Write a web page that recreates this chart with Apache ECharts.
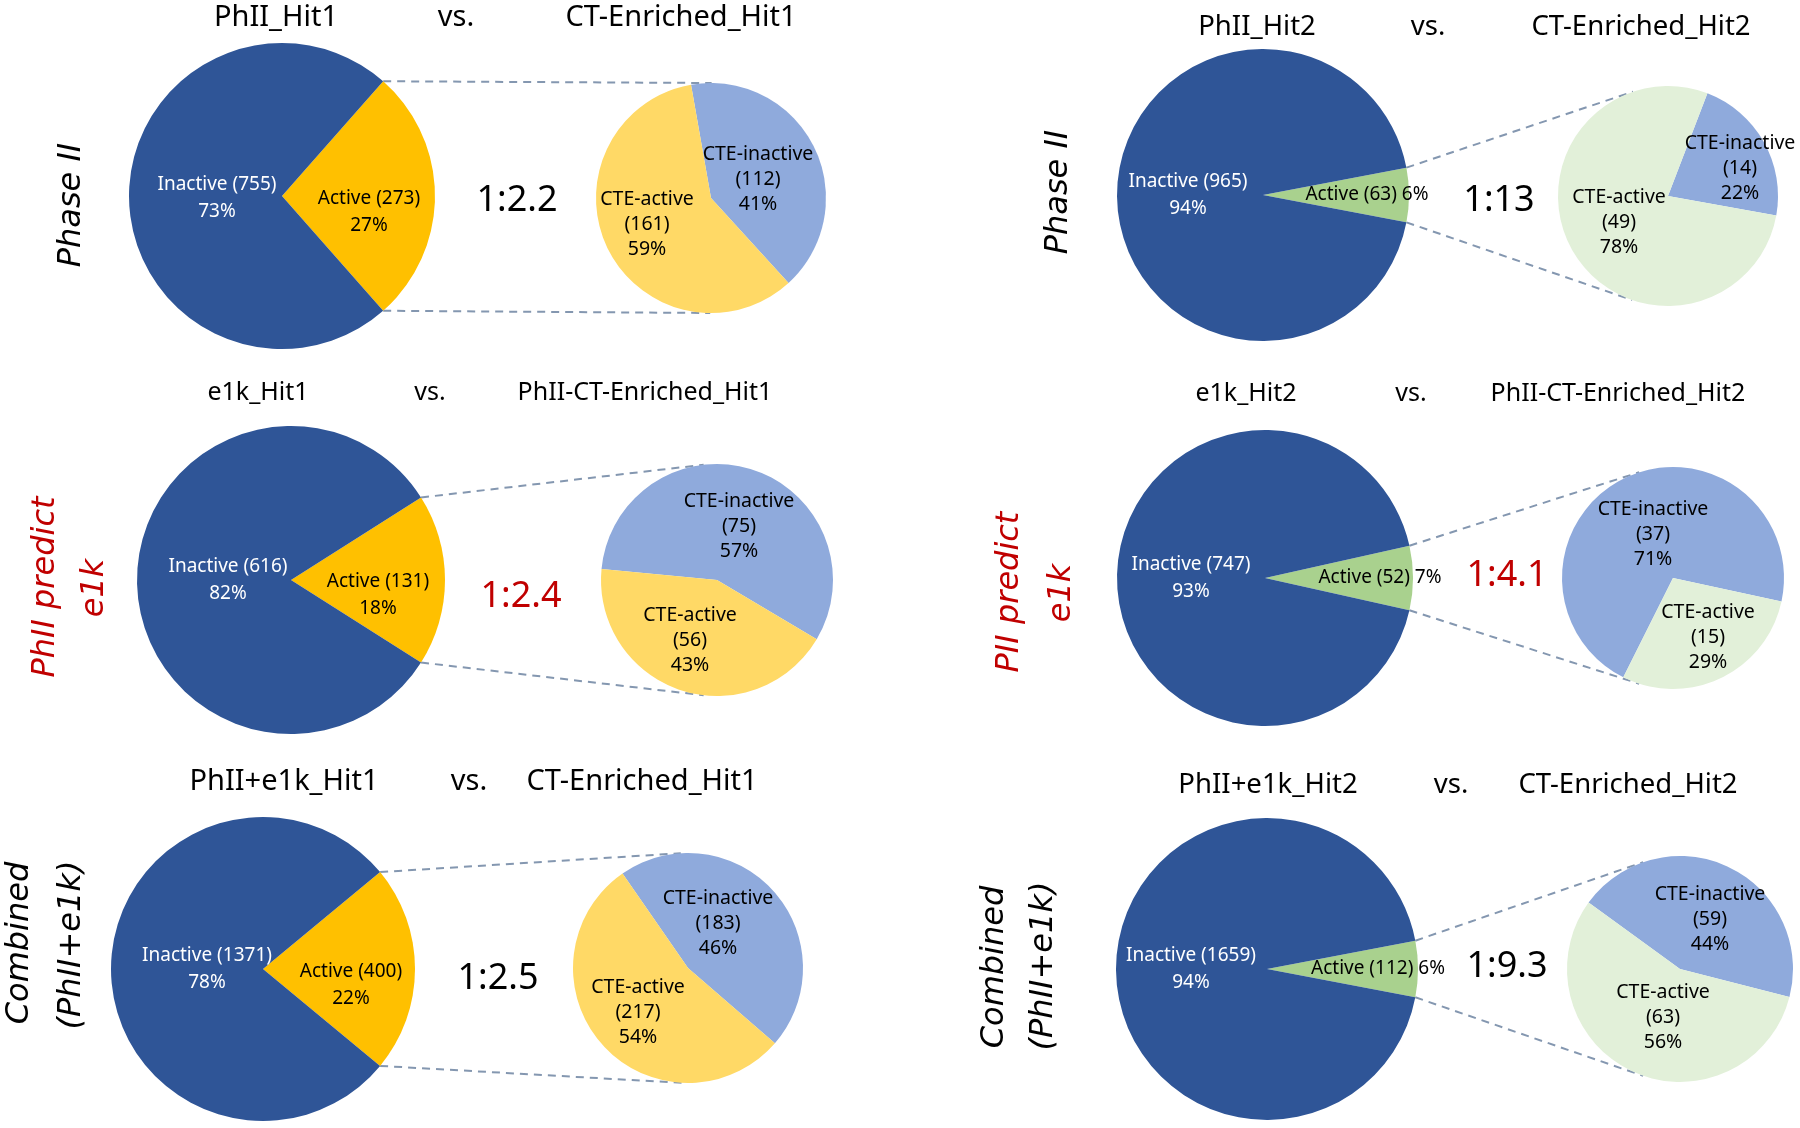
<!DOCTYPE html>
<html><head><meta charset="utf-8">
<script src="https://cdn.jsdelivr.net/npm/echarts/dist/echarts.min.js"></script>
<style>html,body{margin:0;padding:0;background:#fff}#c{width:1800px;height:1128px}</style>
</head><body><div id="c"></div>
<script>
// ---------------- data (panel order: row1-left, row1-right, row2-left, row2-right, row3-left, row3-right) ----------------
const primaryTitles = ['PhII_Hit1', 'PhII_Hit2', 'e1k_Hit1', 'e1k_Hit2', 'PhII+e1k_Hit1', 'PhII+e1k_Hit2'];
const secondaryTitles = ['CT-Enriched_Hit1', 'CT-Enriched_Hit2', 'PhII-CT-Enriched_Hit1', 'PhII-CT-Enriched_Hit2', 'CT-Enriched_Hit1', 'CT-Enriched_Hit2'];
const inactiveCounts = [755, 965, 616, 747, 1371, 1659];
const activeCounts = [273, 63, 131, 52, 400, 112];
const inactivePct = [73, 94, 82, 93, 78, 94];
const activePct = [27, 6, 18, 7, 22, 6];
const cteInactiveCounts = [112, 14, 75, 37, 183, 59];
const cteActiveCounts = [161, 49, 56, 15, 217, 63];
const cteInactivePct = [41, 22, 57, 71, 46, 44];
const cteActivePct = [59, 78, 43, 29, 54, 56];
const ratioLabels = ['1:2.2', '1:13', '1:2.4', '1:4.1', '1:2.5', '1:9.3'];
const rowLabels = [['Phase II'], ['Phase II'], ['PhII predict', 'e1k'], ['PII predict', 'e1k'], ['Combined', '(PhII+e1k)'], ['Combined', '(PhII+e1k)']];

// ---------------- layout & style ----------------
const bigCenter = [[282, 196], [1263, 195], [291, 580], [1265, 578], [263, 969], [1267, 969]];
const bigR = [153, 146, 154, 148, 152, 151];
const smallCenter = [[711, 198], [1668, 196], [717, 580], [1673, 578], [688, 968], [1680, 969]];
const smallR = [115, 110, 116, 111, 115, 113];
const smallStart = [100, 69, 174.5, 243.4, 124.7, 144];
const titleY = [18, 27, 393, 394, 782, 785];
const titleX = [[276, 456, 681], [1257, 1428, 1641], [258, 430, 645], [1246, 1411, 1618], [284, 469, 642], [1268, 1451, 1628]];
const titleSize = [29, 27.5, 25, 25, 29, 27.5];
const ratioPos = [[517, 201], [1499, 201], [521, 597], [1507, 576], [498, 979], [1507, 967]];
const ratioColor = ['#000000', '#000000', '#C00000', '#C00000', '#000000', '#000000'];
const rowLabelPos = [[[72, 205]], [[1059, 192]], [[46, 587], [95, 588]], [[1010, 592], [1062, 593]], [[20, 943], [72, 945]], [[995, 967], [1044, 966]]];
const rowLabelColor = ['#000000', '#000000', '#C00000', '#C00000', '#000000', '#000000'];
// label offsets from pie centre: [inactive, active]
const bigLabelOff = [[[-65, 2], [87, 16]], [[-75, 0], [104, 0]], [[-63, 0], [87, 15]], [[-74, 0], [115, 0]], [[-56, 0], [88, 16]], [[-76, 0], [111, 0]]];
const activeInline = [false, true, false, true, false, true];
const smallLabelOff = [[[47, -19], [-64, 26]], [[72, -28], [-49, 26]], [[22, -54], [-27, 60]], [[-20, -44], [35, 59]], [[30, -45], [-50, 44]], [[30, -50], [-17, 48]]];
const INACTIVE_COLOR = '#2F5597';
const activeColor = ['#FFC000', '#A9D18E', '#FFC000', '#A9D18E', '#FFC000', '#A9D18E'];
const cteActiveColor = ['#FFD966', '#E2F0D9', '#FFD966', '#E2F0D9', '#FFD966', '#E2F0D9'];
const CTE_INACTIVE_COLOR = '#8FAADC';
const FONT = '"Noto Sans", "Open Sans", sans-serif';
const ROWFONT = '"DejaVu Sans", Verdana, sans-serif';
const LINE_COLOR = '#8497B0';

const chart = echarts.init(document.getElementById('c'), null, { renderer: 'canvas' });
const series = [];
const graphics = [];

function tangentPoint(P, C, r, upper) {
  const dx = C[0] - P[0], dy = C[1] - P[1];
  const L = Math.hypot(dx, dy);
  const th = Math.atan2(dy, dx);
  const a = Math.asin(Math.min(1, r / L));
  const t = Math.sqrt(Math.max(0, L * L - r * r));
  const ang = upper ? th - a : th + a;
  return [P[0] + t * Math.cos(ang), P[1] + t * Math.sin(ang)];
}

for (let i = 0; i < 6; i++) {
  const bc = bigCenter[i], sc = smallCenter[i];
  const bOff = bigLabelOff[i], sOff = smallLabelOff[i];
  // primary pie: [Active, Inactive], active wedge centred at 3 o'clock
  series.push({
    type: 'pie', silent: true, animation: false, avoidLabelOverlap: false,
    center: bc, radius: bigR[i], startAngle: activePct[i] * 1.8, clockwise: true,
    itemStyle: { borderWidth: 0 },
    label: { show: true, position: 'inside', fontFamily: FONT, fontSize: 19, lineHeight: 27 },
    labelLine: { show: false },
    labelLayout: function (p) {
      const o = p.dataIndex === 0 ? bOff[1] : bOff[0];
      return { x: bc[0] + o[0], y: bc[1] + o[1], align: 'center', verticalAlign: 'middle' };
    },
    data: [
      { name: 'Active', value: activePct[i], itemStyle: { color: activeColor[i] },
        label: { color: '#000000', formatter: 'Active (' + activeCounts[i] + ')' + (activeInline[i] ? ' ' : '\n') + activePct[i] + '%' } },
      { name: 'Inactive', value: inactivePct[i], itemStyle: { color: INACTIVE_COLOR },
        label: { color: '#ffffff', formatter: 'Inactive (' + inactiveCounts[i] + ')\n' + inactivePct[i] + '%' } }
    ]
  });
  // secondary pie: [CTE-inactive, CTE-active]
  series.push({
    type: 'pie', silent: true, animation: false, avoidLabelOverlap: false,
    center: sc, radius: smallR[i], startAngle: smallStart[i], clockwise: true,
    itemStyle: { borderWidth: 0 },
    label: { show: true, position: 'inside', fontFamily: FONT, fontSize: 19.5, lineHeight: 25, color: '#000000' },
    labelLine: { show: false },
    labelLayout: function (p) {
      const o = sOff[p.dataIndex];
      return { x: sc[0] + o[0], y: sc[1] + o[1], align: 'center', verticalAlign: 'middle' };
    },
    data: [
      { name: 'CTE-inactive', value: cteInactivePct[i], itemStyle: { color: CTE_INACTIVE_COLOR },
        label: { formatter: 'CTE-inactive\n(' + cteInactiveCounts[i] + ')\n' + cteInactivePct[i] + '%' } },
      { name: 'CTE-active', value: cteActivePct[i], itemStyle: { color: cteActiveColor[i] },
        label: { formatter: 'CTE-active\n(' + cteActiveCounts[i] + ')\n' + cteActivePct[i] + '%' } }
    ]
  });
  // connector lines (from active wedge edges, tangent to secondary pie)
  const h = activePct[i] / 100 * Math.PI;
  const pTop = [bc[0] + bigR[i] * Math.cos(h), bc[1] - bigR[i] * Math.sin(h)];
  const pBot = [bc[0] + bigR[i] * Math.cos(h), bc[1] + bigR[i] * Math.sin(h)];
  const tTop = tangentPoint(pTop, sc, smallR[i], true);
  const tBot = tangentPoint(pBot, sc, smallR[i], false);
  [[pTop, tTop], [pBot, tBot]].forEach(function (seg) {
    graphics.push({ type: 'line', z: 0, silent: true,
      shape: { x1: seg[0][0], y1: seg[0][1], x2: seg[1][0], y2: seg[1][1] },
      style: { stroke: LINE_COLOR, lineWidth: 2, lineDash: [8, 6] } });
  });
  // titles
  const tt = [primaryTitles[i], 'vs.', secondaryTitles[i]];
  tt.forEach(function (t, k) {
    graphics.push({ type: 'text', silent: true, x: titleX[i][k], y: titleY[i],
      style: { text: t, fill: '#000000', fontFamily: FONT, fontSize: titleSize[i], align: 'center', verticalAlign: 'middle' } });
  });
  // ratio
  graphics.push({ type: 'text', silent: true, x: ratioPos[i][0], y: ratioPos[i][1],
    style: { text: ratioLabels[i], fill: ratioColor[i], fontFamily: FONT, fontSize: 36, align: 'center', verticalAlign: 'middle' } });
  // row labels (rotated)
  rowLabels[i].forEach(function (t, k) {
    graphics.push({ type: 'text', silent: true, x: rowLabelPos[i][k][0], y: rowLabelPos[i][k][1], rotation: Math.PI / 2,
      style: { text: t, fill: rowLabelColor[i], fontFamily: ROWFONT, fontStyle: 'italic', fontSize: 32, align: 'center', verticalAlign: 'middle' } });
  });
}

chart.setOption({
  backgroundColor: '#ffffff',
  animation: false,
  graphic: { elements: graphics },
  series: series
});
</script>
</body></html>
